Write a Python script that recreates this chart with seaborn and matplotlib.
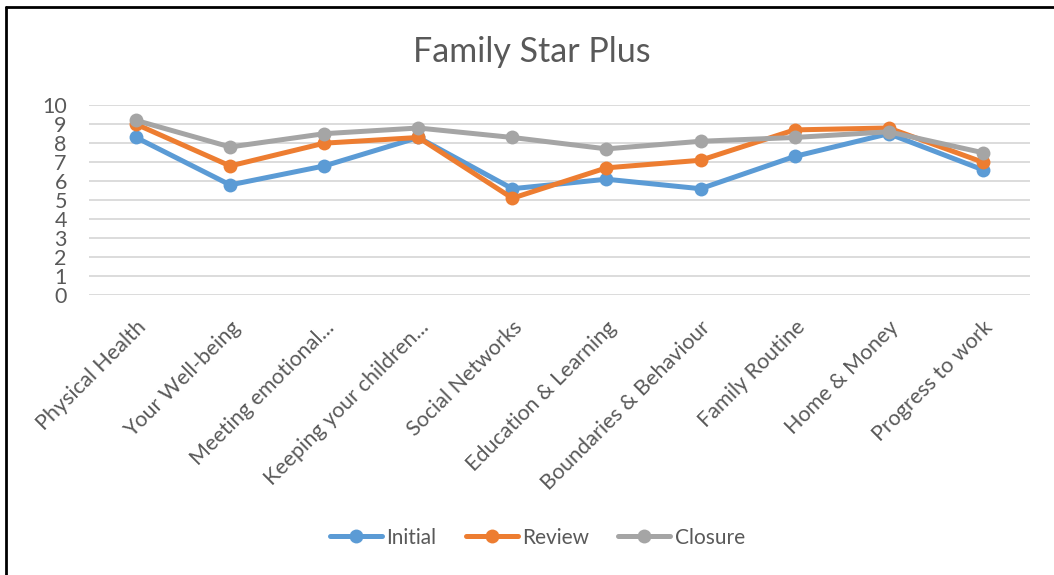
import pandas as pd
import seaborn as sns
import matplotlib.pyplot as plt
from matplotlib.lines import Line2D

categories = ["Physical Health", "Your Well-being", "Meeting emotional...",
              "Keeping your children...", "Social Networks", "Education & Learning",
              "Boundaries & Behaviour", "Family Routine", "Home & Money",
              "Progress to work"]
initial = [8.3, 5.8, 6.8, 8.3, 5.6, 6.1, 5.6, 7.3, 8.5, 6.6]
review = [9.0, 6.8, 8.0, 8.3, 5.1, 6.7, 7.1, 8.7, 8.8, 7.0]
closure = [9.2, 7.8, 8.5, 8.8, 8.3, 7.7, 8.1, 8.3, 8.6, 7.5]
series = ["Initial", "Review", "Closure"]
colors = ["#5B9BD5", "#ED7D31", "#A5A5A5"]

df = pd.DataFrame({"cat": categories * 3,
                   "x": list(range(len(categories))) * 3,
                   "value": initial + review + closure,
                   "series": [s for s in series for _ in categories]})

sns.set_style("white")
plt.rcParams['font.family'] = ['Lato', 'DejaVu Sans']
txt = "#595959"

fig = plt.figure(figsize=(10.54, 5.75), dpi=100)
ax = fig.add_axes([0.0845, 0.487, 0.8925, 0.33])

sns.lineplot(data=df, x="x", y="value", hue="series", hue_order=series,
             palette=colors, marker="o", markersize=10, markeredgewidth=0,
             linewidth=3.6, ax=ax, legend=False)

ax.set_xlim(-0.5, len(categories) - 0.5)
ax.set_ylim(0, 10)
ax.set_yticks(range(0, 11))
ax.set_xticks(range(len(categories)))
ax.set_xticklabels(categories, rotation=45, ha="right", rotation_mode="anchor",
                   fontsize=15.5, color=txt)
ax.tick_params(axis="y", labelsize=15.5, labelcolor=txt, length=0, pad=16)
ax.tick_params(axis="x", length=0, pad=16)
ax.grid(axis="y", color="#D9D9D9", linewidth=1.3)
ax.set_axisbelow(True)
for s in ax.spines.values():
    s.set_visible(False)
ax.set_xlabel("")
ax.set_ylabel("")

fig.text(0.505, 0.91, "Family Star Plus", ha="center", va="center",
         fontsize=24.5, color=txt)

handles = [Line2D([0], [0], color=c, marker="o", markersize=10, markeredgewidth=0,
                  linewidth=3.6) for c in colors]
fig.legend(handles, series, loc="center", bbox_to_anchor=(0.51, 0.065), ncol=3,
           frameon=False, fontsize=15, labelcolor=txt, handlelength=2.5,
           handletextpad=0.2, columnspacing=1.4)

# chart border
fig.add_artist(Line2D([0.006, 1.0], [0.987, 0.987], color="black", linewidth=2,
                      transform=fig.transFigure))
fig.add_artist(Line2D([0.006, 0.006], [0.0, 0.987], color="black", linewidth=2,
                      transform=fig.transFigure))

fig.savefig("out.png", dpi=100)
